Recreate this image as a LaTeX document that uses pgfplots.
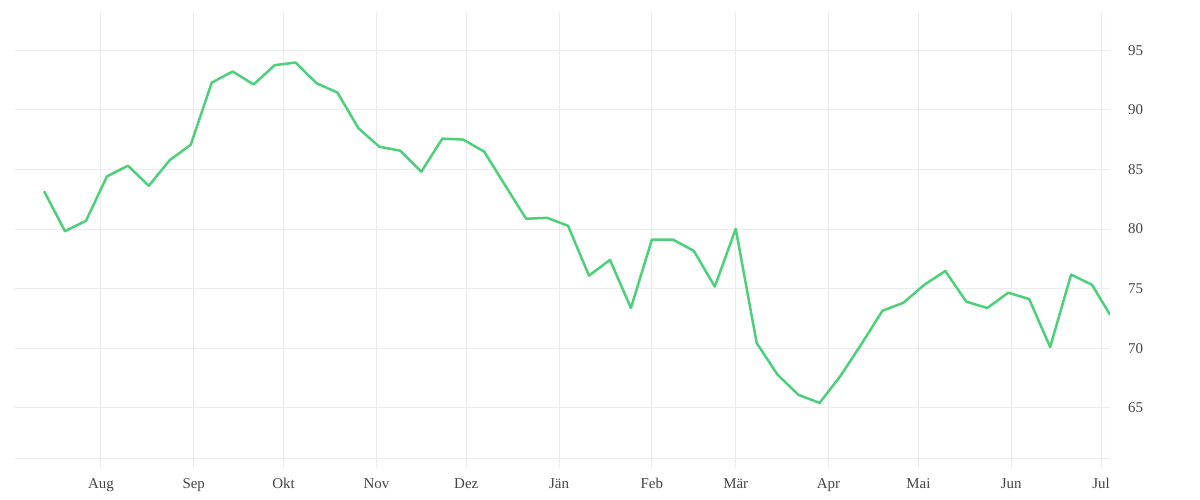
\documentclass[border=0pt]{standalone}
\usepackage{fontspec}
\setmainfont{Liberation Serif}
\usepackage{pgfplots}
\pgfplotsset{compat=1.18}
\definecolor{gridgray}{RGB}{235,235,235}
\definecolor{labelgray}{RGB}{68,68,68}
\definecolor{linegreen}{RGB}{77,208,122}

\begin{document}
\begin{tikzpicture}
\begin{axis}[
	name=ax,
	scale only axis,
	width=1095bp, height=446bp,
	xmin=-28.7, xmax=337,
	ymin=60.8, ymax=98.2,
	xtick={0,31,61,92,122,153,184,212,243,273,304,334},
	xticklabels={Aug,Sep,Okt,Nov,Dez,Jän,Feb,Mär,Apr,Mai,Jun,Jul},
	ytick={65,70,75,80,85,90,95},
	yticklabel pos=right,
	xtick pos=bottom,
	tick align=outside,
	major tick length=10bp,
	x tick style={color=gridgray, line width=1bp},
	y tick style={draw=none},
	grid=major,
	grid style={color=gridgray, line width=1bp},
	axis line style={draw=none},
	/pgf/number format/assume math mode=true,
	tick label style={font=\fontsize{15}{18}\selectfont, color=labelgray},
	xticklabel style={anchor=base, inner sep=0pt, yshift=-20bp},
	yticklabel style={anchor=west, inner sep=0pt, xshift=8bp},
]
% weekly values, x in days from 1 Aug
\addplot[linegreen, line width=2.5bp, line join=round] coordinates {
	(-19,83.18) (-12,79.82) (-5,80.69) (2,84.41) (9,85.31) (16,83.63)
	(23,85.78) (30,87.07) (37,92.28) (44,93.21) (51,92.12) (58,93.74)
	(65,93.96) (72,92.23) (79,91.44) (86,88.45) (93,86.90) (100,86.57)
	(107,84.81) (114,87.58) (121,87.50) (128,86.49) (135,83.66) (142,80.86)
	(149,80.94) (156,80.27) (163,76.09) (170,77.41) (177,73.38) (184,79.12)
	(191,79.12) (198,78.17) (205,75.17) (212,80.02) (219,70.44) (226,67.77)
	(233,66.09) (240,65.42) (247,67.69) (254,70.36) (261,73.15) (268,73.82)
	(275,75.33) (282,76.48) (289,73.91) (296,73.38) (303,74.66) (310,74.13)
	(317,70.10) (324,76.18) (331,75.32) (337,72.81)
};
\draw[gridgray, line width=1bp] (rel axis cs:0,0) -- (rel axis cs:1,0) -- (rel axis cs:1,1);
\end{axis}
\path ([xshift=-15bp,yshift=-42bp]ax.south west) rectangle ++(1200bp,500bp);
\end{tikzpicture}
\end{document}
